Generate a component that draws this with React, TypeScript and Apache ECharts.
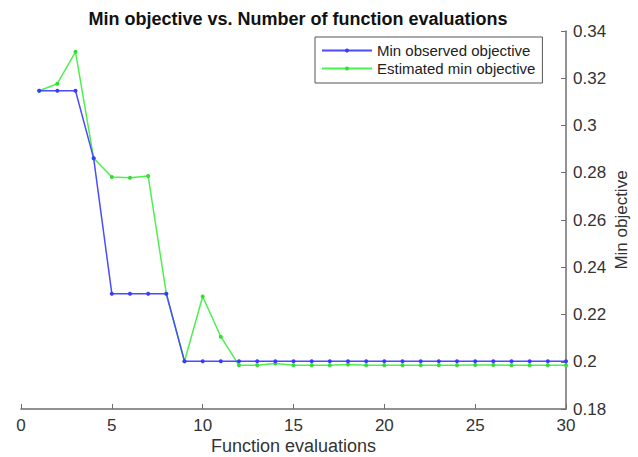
import React, { useEffect, useRef } from "react";
import * as echarts from "echarts";

const evaluations: number[] = Array.from({ length: 30 }, (_, i) => i + 1);
const minObserved: number[] = [
  0.3147, 0.3147, 0.3147, 0.2861, 0.2288, 0.2288, 0.2288, 0.2288, 0.2002, 0.2002,
  0.2002, 0.2002, 0.2002, 0.2002, 0.2002, 0.2002, 0.2002, 0.2002, 0.2002, 0.2002,
  0.2002, 0.2002, 0.2002, 0.2002, 0.2002, 0.2002, 0.2002, 0.2002, 0.2002, 0.2002,
];
const estimatedMin: number[] = [
  0.3147, 0.3177, 0.3312, 0.2861, 0.2782, 0.2779, 0.2786, 0.2288, 0.2002, 0.2276,
  0.2106, 0.1985, 0.1985, 0.1993, 0.1985, 0.1985, 0.1985, 0.1988, 0.1985, 0.1985,
  0.1985, 0.1985, 0.1985, 0.1985, 0.1986, 0.1986, 0.1985, 0.1985, 0.1985, 0.1985,
];
const seriesNames: string[] = ["Min observed objective", "Estimated min objective"];

const FONT = "'Liberation Sans', Arial, Helvetica, sans-serif";

export default function App() {
  const ref = useRef<HTMLDivElement>(null);
  useEffect(() => {
    if (!ref.current) return;
    const chart = echarts.init(ref.current, undefined, { renderer: "svg" });
    chart.setOption({
      animation: false,
      backgroundColor: "#ffffff",
      title: {
        text: "Min objective vs. Number of function evaluations",
        left: 293,
        top: 5,
        textAlign: "center",
        textStyle: { fontFamily: FONT, fontSize: 18, fontWeight: "bold", color: "#111" },
      },
      legend: {
        orient: "vertical",
        left: 315,
        top: 37,
        padding: [5, 7, 6, 6],
        itemGap: 1,
        itemWidth: 50,
        itemHeight: 5,
        borderColor: "#555",
        borderWidth: 1,
        backgroundColor: "#fff",
        textStyle: { fontFamily: FONT, fontSize: 15, color: "#222", lineHeight: 17 },
        data: seriesNames,
      },
      grid: { left: 21, right: 72, top: 31, bottom: 48, outerBoundsMode: "none", containLabel: false },
      xAxis: {
        type: "value",
        min: 0,
        max: 30,
        interval: 5,
        name: "Function evaluations",
        nameLocation: "middle",
        nameGap: 28,
        nameMoveOverlap: false,
        nameTextStyle: { fontFamily: FONT, fontSize: 18, color: "#333" },
        axisLine: { show: true, onZero: false, lineStyle: { color: "#6e6e6e", width: 1.5 } },
        axisTick: { show: true, inside: true, length: 5, lineStyle: { color: "#6e6e6e" } },
        axisLabel: { fontFamily: FONT, fontSize: 17, color: "#333", margin: 8 },
        splitLine: { show: false },
      },
      yAxis: {
        type: "value",
        position: "right",
        min: 0.18,
        max: 0.34,
        interval: 0.02,
        name: "Min objective",
        nameLocation: "middle",
        nameRotate: 90,
        nameGap: 47,
        nameMoveOverlap: false,
        nameTextStyle: { fontFamily: FONT, fontSize: 17, color: "#333" },
        axisLine: { show: true, onZero: false, lineStyle: { color: "#6e6e6e", width: 1.5 } },
        axisTick: { show: true, inside: true, length: 5, lineStyle: { color: "#6e6e6e" } },
        axisLabel: {
          fontFamily: FONT,
          fontSize: 17,
          color: "#333",
          margin: 7,
          formatter: (v: number) => String(+v.toFixed(2)),
        },
        splitLine: { show: false },
      },
      series: [
        {
          name: seriesNames[0],
          type: "line",
          data: evaluations.map((x, i) => [x, minObserved[i]]),
          symbol: "circle",
          symbolSize: 4,
          showSymbol: true,
          color: "#4b4bff",
          lineStyle: { color: "#4b4bff", width: 1.5 },
          itemStyle: { color: "#3a3aff" },
          z: 3,
        },
        {
          name: seriesNames[1],
          type: "line",
          data: evaluations.map((x, i) => [x, estimatedMin[i]]),
          symbol: "circle",
          symbolSize: 4,
          showSymbol: true,
          color: "#4ef04e",
          lineStyle: { color: "#4ef04e", width: 1.5 },
          itemStyle: { color: "#33dd33" },
          z: 2,
        },
      ],
    });
    return () => chart.dispose();
  }, []);
  return (
    <div
      ref={ref}
      style={{ position: "absolute", left: 0, top: 0, width: 638, height: 457 }}
    />
  );
}
